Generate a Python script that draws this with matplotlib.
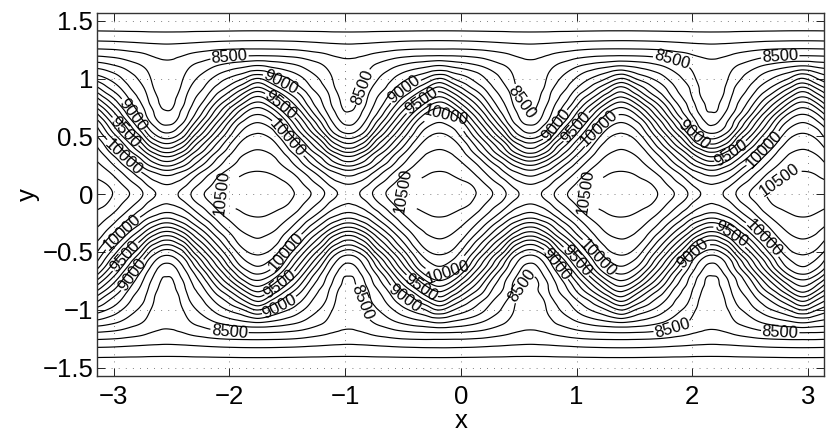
import numpy as np
import matplotlib
matplotlib.use("Agg")
import matplotlib.pyplot as plt
import matplotlib.tri as mtri

plt.rcParams['font.family'] = ['Liberation Sans', 'DejaVu Sans']

# Field: one quarter of a wave (lobe axis -> hump axis), upper half
U_OFFSET = [0, .05, .1, .15, .2, .3, .4, .5, .6, .7, .785]
Y_ROWS = [0, .1, .2, .3, .4, .5, .6, .7, .8, .9, 1.0, 1.1, 1.2, 1.3, 1.4, 1.5, 1.6]
Z_ROWS = [
    [10060, 10095, 10164, 10218, 10262, 10385, 10475, 10530, 10572, 10583, 10590],
    [9993, 10002, 10021, 10065, 10139, 10262, 10375, 10495, 10524, 10540, 10547],
    [9781, 9800, 9854, 9892, 9935, 10125, 10250, 10375, 10455, 10496, 10503],
    [9446, 9468, 9535, 9621, 9707, 9891, 10089, 10250, 10366, 10425, 10439],
    [9107, 9129, 9215, 9295, 9419, 9670, 9881, 10079, 10277, 10352, 10371],
    [8800, 8825, 8891, 8993, 9143, 9431, 9671, 9906, 10125, 10273, 10292],
    [8608, 8623, 8706, 8785, 8893, 9206, 9459, 9713, 9994, 10125, 10176],
    [8496, 8500, 8599, 8685, 8754, 8980, 9258, 9493, 9750, 9956, 10000],
    [8471, 8475, 8533, 8612, 8694, 8844, 9054, 9270, 9455, 9685, 9769],
    [8447, 8449, 8482, 8565, 8636, 8740, 8900, 9017, 9189, 9369, 9500],
    [8422, 8424, 8447, 8518, 8570, 8665, 8764, 8868, 8932, 9054, 9161],
    [8397, 8399, 8411, 8455, 8503, 8565, 8632, 8684, 8729, 8762, 8786],
    [8364, 8367, 8375, 8382, 8397, 8429, 8458, 8474, 8483, 8484, 8484],
    [8250, 8252, 8255, 8258, 8261, 8270, 8279, 8288, 8292, 8296, 8297],
    [8125, 8125, 8125, 8125, 8127, 8128, 8129, 8130, 8131, 8132, 8132],
    [8035, 8035, 8037, 8038, 8040, 8042, 8045, 8047, 8050, 8050, 8050],
    [8010, 8010, 8010, 8010, 8010, 8010, 8010, 8010, 8010, 8010, 8010],
]
LOBE_X = [-4.11, -2.54, -0.97, 0.60, 2.17, 3.74]
LABEL_LEVELS = [8500, 9000, 9500, 10000, 10500]
PLAIN_LEVELS = [v for v in range(8125, 10501, 125) if v not in LABEL_LEVELS]
X_TICKS = [-3, -2, -1, 0, 1, 2, 3]
Y_TICKS = [-1.5, -1, -0.5, 0, 0.5, 1, 1.5]
LABEL_SPOTS = [
    (-2.0, 1.20), (-1.56, .96), (-1.56, .77), (-1.50, .48),
    (-2.85, .68), (-2.90, .54), (-2.92, .32), (-2.09, .03),
    (-.856, .93), (-.50, .92), (-.337, .80), (-.153, .617),
    (.505, .79), (.83, .59), (1.0, .58), (1.205, .57),
    (-.52, .03), (1.05, .03),
    (1.82, 1.145), (2.01, .51), (2.33, .366), (2.60, .41),
    (2.76, 1.20), (2.745, .15),
    (-2.0, -1.20), (-1.56, -.98), (-1.55, -.79), (-1.50, -.51),
    (-2.92, -.34), (-2.90, -.54), (-2.85, -.69),
    (-.865, -.94), (-.50, -.92), (-.346, -.81), (-.144, -.62),
    (.50, -.797), (.835, -.60), (1.0, -.58), (1.175, -.557),
    (1.824, -1.143), (2.01, -.514), (2.33, -.355), (2.60, -.40),
    (2.76, -1.206),
]

u = np.array(U_OFFSET)
half = np.array(Z_ROWS, dtype=float)
# mirror about the lobe axis, repeat along x, mirror about y = 0
u_wave = np.concatenate([-u[::-1], u[1:]])
z_wave = np.hstack([half[:, ::-1], half[:, 1:]])
x_all = np.concatenate([c + u_wave[(0 if i == 0 else 1):] for i, c in enumerate(LOBE_X)])
z_all = np.hstack([z_wave[:, (0 if i == 0 else 1):] for i in range(len(LOBE_X))])
yr = np.array(Y_ROWS)
y_all = np.concatenate([-yr[::-1], yr[1:]])
Z = np.vstack([z_all[::-1], z_all[1:]])

# light rendering blur of the hand-read table so contour lines do not ripple
soft = Z.copy()
soft[1:-1, :] = 0.12 * Z[:-2, :] + 0.76 * Z[1:-1, :] + 0.12 * Z[2:, :]
blur = soft.copy()
blur[:, 1:-1] = 0.12 * soft[:, :-2] + 0.76 * soft[:, 1:-1] + 0.12 * soft[:, 2:]

fig = plt.figure(figsize=(8.30, 4.41), dpi=100)
ax = fig.add_axes([97.3 / 830, 1 - 375.7 / 441, 727 / 830, 363 / 441])
ax.set_xlim(-np.pi, np.pi)
ax.set_ylim(-np.pi / 2, np.pi / 2)
ax.set_xticks(X_TICKS)
ax.set_yticks(Y_TICKS)
ax.set_yticklabels(['\u22121.5', '\u22121', '\u22120.5', '0', '0.5', '1', '1.5'])
ax.set_xticklabels(['\u22123', '\u22122', '\u22121', '0', '1', '2', '3'])
ax.tick_params(direction='in', length=5.8, width=0.7, top=True, right=True,
               labelsize=18.5, color='#222222')
ax.tick_params(axis='x', pad=7)
ax.tick_params(axis='y', pad=3)
ax.grid(True, color='#555555', linewidth=0.6, linestyle=(0, (1, 7.5)))
ax.set_axisbelow(True)
for s in ax.spines.values():
    s.set_linewidth(1.0)
    s.set_color('#333333')
ax.set_xlabel('x', fontsize=18.5, labelpad=0)
ax.set_ylabel('y', fontsize=18.5, labelpad=2)

# library contouring over matplotlib's own smooth refinement of the read table
X, Y = np.meshgrid(x_all, y_all)
tri = mtri.Triangulation(X.ravel(), Y.ravel())
interp = mtri.CubicTriInterpolator(tri, blur.ravel(), kind='min_E')
fine_tri, fine_z = mtri.UniformTriRefiner(tri).refine_field(blur.ravel(), triinterpolator=interp, subdiv=3)

ax.tricontour(fine_tri, fine_z, levels=PLAIN_LEVELS, colors='black', linewidths=0.85)
cs = ax.tricontour(fine_tri, fine_z, levels=LABEL_LEVELS, colors='black', linewidths=0.85)
ax.clabel(cs, manual=LABEL_SPOTS, fmt='%d', fontsize=11.8, inline_spacing=1)

fig.savefig('out.png', dpi=100)
